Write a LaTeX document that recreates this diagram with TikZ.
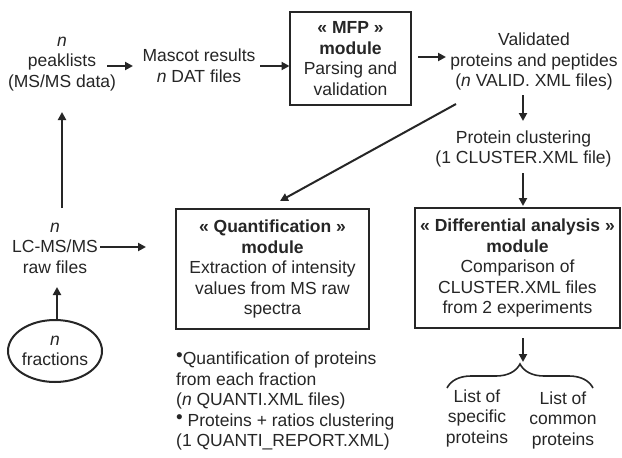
\documentclass[tikz,border=0pt]{standalone}
\usepackage{fontspec}
\setmainfont{Liberation Sans}
\usetikzlibrary{arrows.meta,decorations.pathreplacing,shapes.geometric,calc}
\newcommand{\txtfont}{\fontsize{17.5}{20.5}\selectfont}
\newcommand{\bul}{\raisebox{3pt}{\fontsize{19}{19}\selectfont•}}
\tikzset{
  lbl/.style={inner sep=0pt, align=center, font=\txtfont, text=black!85},
  modbox/.style={draw=black!85, line width=2.4pt, inner sep=0pt, align=center, font=\txtfont, text=black!85},
  arr/.style={draw=black!85, line width=2pt, -{Triangle[length=8pt,width=8pt]}},
  ln/.style={draw=black!85, line width=2pt},
}
\begin{document}
\begin{tikzpicture}[x=1pt,y=-1pt]
\useasboundingbox (0,0) rectangle (622,458);
\fill[white] (0,0) rectangle (622,458);
% text nodes
\node[lbl] (peak) at (62,64) {\textit{n}\\peaklists\\(MS/MS data)};
\node[lbl] (mascot) at (199,65.5) {Mascot results\\\textit{n} DAT files};
\node[modbox, minimum width=121pt, minimum height=93pt] (mfp) at (350.5,58.5)
  {\textbf{« MFP »}\\\textbf{module}\\Parsing and\\validation};
\node[lbl] (valid) at (534,61.5) {Validated\\proteins and peptides\\(\textit{n} VALID. XML files)};
\node[lbl] (clust) at (523.5,149) {Protein clustering\\(1 CLUSTER.XML file)};
\node[modbox, minimum width=193pt, minimum height=120pt] (quant) at (272.5,269)
  {\textbf{« Quantification »}\\\textbf{module}\\Extraction of intensity\\values from MS raw\\spectra};
\node[modbox, minimum width=205pt, minimum height=120pt] (diff) at (517.5,268)
  {\textbf{« Differential analysis »}\\\textbf{module}\\Comparison of\\CLUSTER.XML files\\from 2 experiments};
\node[lbl] (lcms) at (55,248) {\textit{n}\\LC-MS/MS\\raw files};
\node[draw=black!85, line width=2pt, ellipse, minimum width=94pt, minimum height=62pt, inner sep=0pt, align=center, font=\txtfont, text=black!85] (frac) at (55,351) {\textit{n}\\fractions};
\node[lbl, align=left, anchor=west] (bullets) at (176,401)
  {\bul Quantification of proteins\\from each fraction\\(\textit{n} QUANTI.XML files)\\\bul\ Proteins + ratios clustering\\(1 QUANTI\_REPORT.XML)};
\node[lbl] (list1) at (477,418) {List of\\specific\\proteins};
\node[lbl] (list2) at (563,420) {List of\\common\\proteins};
% brace anchors
\coordinate (bl) at (447,388);
\coordinate (br) at (593,388);
\coordinate (btip) at (523,362);
% connectors
\draw[arr] ($(peak)+(45,2)$) -- ($(mascot)+(-66,0.5)$);
\draw[arr] ($(mascot)+(61,0.5)$) -- ($(mfp)+(-61,7.5)$);
\draw[arr] ($(mfp)+(67.5,-1.5)$) -- ($(valid)+(-88,-4.5)$);
\draw[arr] ($(valid)+(-11,33.5)$) -- ($(clust)+(-0.5,-28)$);
\draw[arr] ($(valid)+(-78,42.5)$) -- ($(quant)+(7.5,-68)$);
\draw[arr] ($(clust)+(-0.5,24)$) -- ($(diff)+(5.5,-62)$);
\draw[arr] ($(lcms)+(7,-40)$) -- ($(peak)+(0,48)$);
\draw[arr] ($(lcms)+(45,-1)$) -- ($(quant)+(-126.5,-22)$);
\draw[arr] ($(frac)+(2,-31)$) -- ($(lcms)+(2,39)$);
\draw[arr] ($(diff)+(5.5,70)$) -- (btip);
\draw[ln, line width=1.6pt, decorate, decoration={brace, amplitude=24pt}] (bl) -- (br);
\end{tikzpicture}
\end{document}
